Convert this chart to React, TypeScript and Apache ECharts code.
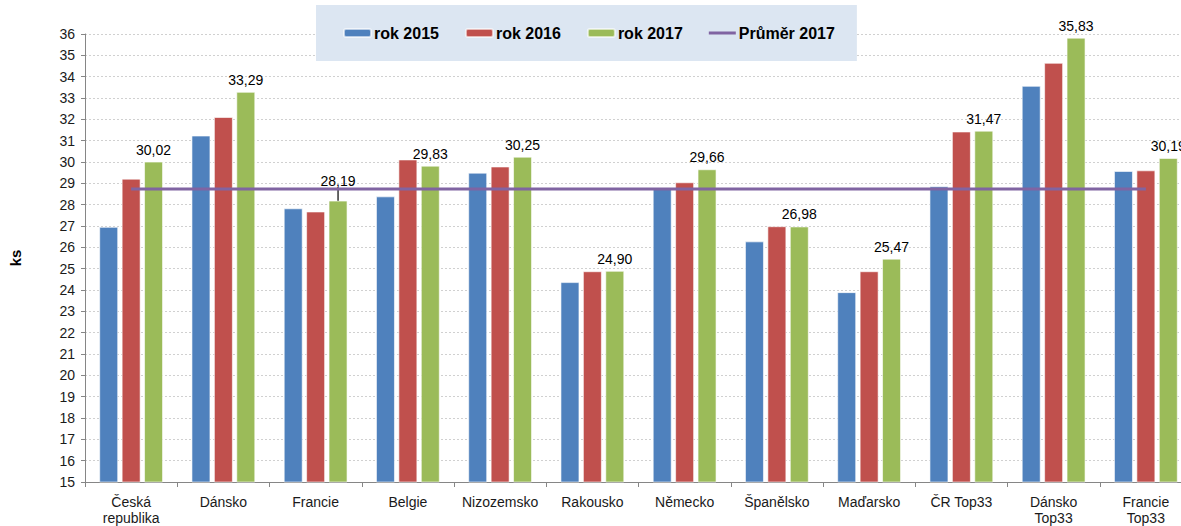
import React, { useEffect, useRef } from "react";
import * as echarts from "echarts";

const categories = [
  "Česká\nrepublika",
  "Dánsko",
  "Francie",
  "Belgie",
  "Nizozemsko",
  "Rakousko",
  "Německo",
  "Španělsko",
  "Maďarsko",
  "ČR Top33",
  "Dánsko\nTop33",
  "Francie\nTop33",
];
const rok2015 = [26.96, 31.24, 27.83, 28.39, 29.5, 24.37, 28.78, 26.28, 23.9, 28.86, 33.57, 29.58];
const rok2016 = [29.22, 32.11, 27.68, 30.12, 29.79, 24.88, 29.05, 26.99, 24.88, 31.43, 34.65, 29.61];
const rok2017 = [30.02, 33.29, 28.19, 29.83, 30.25, 24.9, 29.66, 26.98, 25.47, 31.47, 35.83, 30.19];
const prumer2017 = [28.73, 28.73, 28.73, 28.73, 28.73, 28.73, 28.73, 28.73, 28.73, 28.73, 28.73, 28.73];
const leaderIndex = 2;

const FONT = "'Liberation Sans', Arial, sans-serif";

export default function App() {
  const ref = useRef<HTMLDivElement>(null);
  useEffect(() => {
    document.body.style.margin = "0";
    document.body.style.overflow = "hidden";
    const chart = echarts.init(ref.current!, null, { renderer: "svg" });
    const fmt = (v: number) => v.toFixed(2).replace(".", ",");
    const barStyle = (color: string) => ({
      color,
      borderColor: "rgba(255,255,255,0.6)",
      borderWidth: 1,
    });
    chart.setOption({
      animation: false,
      textStyle: { fontFamily: FONT },
      legend: {
        left: 316,
        top: 5,
        padding: [20, 22, 20, 27],
        backgroundColor: "#dce6f2",
        itemWidth: 27,
        itemHeight: 8,
        itemGap: 26,
        textStyle: { fontFamily: FONT, fontSize: 16, fontWeight: "bold", color: "#000", padding: [0, 0, 0, -2] },
        data: [
          "rok 2015",
          "rok 2016",
          "rok 2017",
          { name: "Průměr 2017", icon: "path://M0,0 L27,0 L27,3 L0,3 Z", itemStyle: { color: "#8064a2" } },
        ],
      },
      grid: { left: 81, right: 0, top: 34, bottom: 42, containLabel: false },
      xAxis: {
        type: "category",
        data: categories,
        boundaryGap: true,
        axisLine: { lineStyle: { color: "#868686", width: 1 } },
        axisTick: { show: true, length: 5, alignWithLabel: false, lineStyle: { color: "#868686" } },
        axisLabel: { fontSize: 14, color: "#1a1a1a", margin: 12, lineHeight: 16, interval: 0 },
      },
      yAxis: {
        type: "value",
        min: 15,
        max: 36,
        interval: 1,
        name: "ks",
        nameLocation: "middle",
        nameGap: 62,
        nameTextStyle: { fontSize: 15, fontWeight: "bold", color: "#000" },
        axisLine: { show: true, lineStyle: { color: "#868686" } },
        axisTick: { show: true, length: 4, inside: false, lineStyle: { color: "#868686" } },
        axisLabel: { fontSize: 14, color: "#1a1a1a", margin: 10 },
        splitLine: { show: true, lineStyle: { color: "#d0d0d0", type: [2, 2], width: 1 } },
      },
      series: [
        {
          name: "rok 2015",
          type: "bar",
          data: rok2015,
          barWidth: 19,
          barGap: "18%",
          itemStyle: barStyle("#4f81bd"),
        },
        {
          name: "rok 2016",
          type: "bar",
          data: rok2016,
          barWidth: 19,
          barGap: "18%",
          itemStyle: barStyle("#c0504d"),
        },
        {
          name: "rok 2017",
          type: "bar",
          data: rok2017.map((v, i) =>
            i === leaderIndex
              ? { value: v, labelLine: { show: true, lineStyle: { color: "#000", width: 1.2 } } }
              : { value: v, labelLine: { show: false } }
          ),
          barWidth: 19,
          barGap: "18%",
          itemStyle: barStyle("#9bbb59"),
          label: {
            show: true,
            position: "top",
            distance: 5,
            fontSize: 14,
            color: "#000",
            formatter: (p: any) => fmt(p.value),
          },
          labelLine: { show: false },
          labelLayout: (p: any) => (p.dataIndex === leaderIndex ? { dy: -8 } : {}),
        },
        {
          name: "Průměr 2017",
          type: "line",
          data: prumer2017,
          symbol: "none",
          z: 5,
          lineStyle: { color: "#8064a2", width: 3 },
          itemStyle: { color: "#8064a2" },
        },
      ],
    });
    return () => chart.dispose();
  }, []);
  return <div ref={ref} style={{ width: 1192, height: 526 }} />;
}
